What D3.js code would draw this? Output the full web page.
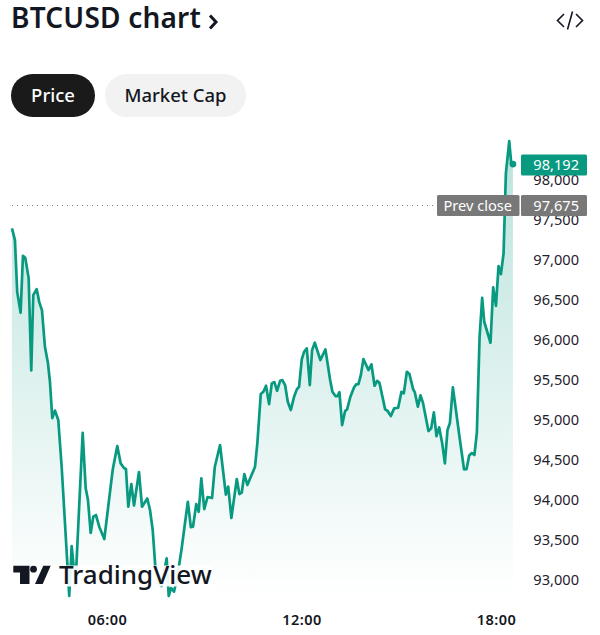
<!DOCTYPE html>
<html><head><meta charset="utf-8">
<script src="https://cdn.jsdelivr.net/npm/d3@7"></script>
<style>html,body{margin:0;padding:0;background:#fff}svg{display:block}text{font-family:"Noto Sans",sans-serif}</style>
</head><body><div id="c"></div>
<script>
const title="BTCUSD chart";
const tabs=["Price","Market Cap"];
const minutes=[184,186.4,189.6,193.8,200.1,204.4,208.7,215,219.8,223.5,229.8,234.6,239.6,245.1,250.7,254.4,258.7,263.7,269.8,276.1,290.1,294.6,301.6,315,320.5,324.8,329.8,334.6,339.6,345.7,355,370.5,379,385.3,391.4,395.1,399.4,405,410,419.2,424.8,434.6,439.6,444.6,449.4,454.4,460.9,470.5,474.2,478.5,484,490.2,498.3,509.6,515.2,519.2,525.2,529.8,534.6,540,546.1,554.4,559.6,569.2,580,584.4,590.2,600.2,605,609.4,614.2,619.8,634,638.3,644.6,649.4,654.4,660,665,669.8,674.8,680.4,684.6,689.6,694.6,700.2,706.3,711.3,715.5,720.5,724.8,729.8,735.4,739.6,744.6,755,764.3,773,777.2,782.8,786.5,790.2,795.2,800.7,804.4,810.5,817.4,821.1,825.4,829.8,834.6,843.9,849.4,855.2,860,864.3,874.8,879.1,885.4,891.5,898.9,905,909.4,915,919.8,926.7,929.8,935.4,940.2,944.6,955,960,965,969.8,974.8,980.4,985.4,990.2,994.6,1000.2,1012.4,1020.8,1025.4,1030.4,1035.2,1040,1044.6,1049.6,1054.4,1058.2,1069.8,1074.8,1079.9,1084.7,1089.1,1094,1098.3,1104.5,1108.2,1111.3];
const prices=[97389,97331,97243,96598,96336,97047,97022,96769,95617,96557,96632,96469,96370,95912,95708,95475,95022,95115,94997,94414,92800,93424,92938,94838,94148,93998,93587,93790,93811,93665,93512,94373,94672,94456,94398,94385,93915,94198,93930,94348,93915,94017,93874,93624,93166,92963,92925,93271,92800,92900,92854,93037,93399,93977,93661,93665,93948,93852,94270,93886,94036,94023,94414,94685,94067,94167,93774,94260,94073,94090,94323,94186,94414,94710,95321,95350,95425,95196,95455,95471,95362,95487,95496,95434,95225,95122,95288,95380,95412,95754,95849,95892,95434,95870,95962,95746,95879,95496,95350,95296,95296,95346,94934,95109,95130,95288,95405,95442,95446,95558,95758,95621,95693,95425,95487,95461,95130,95113,95047,95143,95150,95350,95330,95600,95571,95380,95342,95163,95305,95218,94860,94893,95093,94797,94906,94706,94456,94872,94956,95405,94788,94382,94383,94554,94585,94560,94841,96033,96523,96224,95962,96653,96423,96919,96819,97077,98076,98479,98200,98192];
const yTicks=[93000,93500,94000,94500,95000,95500,96000,96500,97000,97500,98000];
const xTicks=[360,720,1080];
const xLabels=["06:00","12:00","18:00"];
const prevClose=97675;
const lastPrice=98192;

const FONT='"Noto Sans",sans-serif';
const svg=d3.select("#c").append("svg").attr("width",600).attr("height",635);
const x=d3.scaleLinear().domain([360,1080]).range([107,496]);
const y=d3.scaleLinear().domain([93000,97000]).range([580,259.6]);
const pts=minutes.map((m,i)=>[m,prices[i]]);

const defs=svg.append("defs");
const g=defs.append("linearGradient").attr("id","fill").attr("gradientUnits","userSpaceOnUse")
  .attr("x1",0).attr("x2",0).attr("y1",y(98479)).attr("y2",597);
g.append("stop").attr("offset",0).attr("stop-color","#089981").attr("stop-opacity",0.28);
g.append("stop").attr("offset",1).attr("stop-color","#089981").attr("stop-opacity",0);

// header
svg.append("text").attr("x",11).attr("y",28).attr("font-size",28).attr("font-weight",600).attr("letter-spacing",0.2).attr("fill","#131722").text(title);
svg.append("path").attr("d","M210 15.5l6 6.5-6 6.5").attr("fill","none").attr("stroke","#131722").attr("stroke-width",3);
svg.append("path").attr("d","M564 14l-6.5 6.5 6.5 6.5M576 14l6.5 6.5-6.5 6.5M572.5 11.5l-5 18").attr("fill","none").attr("stroke","#131722").attr("stroke-width",1.6);

// tabs
const tabBox=[[11,84,"#1a1a1a","#fff"],[105,141,"#f2f2f2","#131722"]];
tabs.forEach((t,i)=>{
  const b=tabBox[i];
  svg.append("rect").attr("x",b[0]).attr("y",74).attr("width",b[1]).attr("height",43).attr("rx",21.5).attr("fill",b[2]);
  svg.append("text").attr("x",b[0]+b[1]/2).attr("y",101.5).attr("text-anchor","middle").attr("font-size",18.5).attr("font-weight",500).attr("fill",b[3]).text(t);
});

// area + prev close dotted
svg.append("path").attr("d",d3.area().x(d=>x(d[0])).y0(597).y1(d=>y(d[1]))(pts)).attr("fill","url(#fill)");
svg.append("line").attr("x1",12).attr("x2",437).attr("y1",y(prevClose)).attr("y2",y(prevClose))
  .attr("stroke","#787b86").attr("stroke-width",1).attr("stroke-dasharray","1 4");

// line
svg.append("path").attr("d",d3.line().x(d=>x(d[0])).y(d=>y(d[1]))(pts)).attr("fill","none")
  .attr("stroke","#089981").attr("stroke-width",2.7).attr("stroke-linejoin","round");
svg.append("circle").attr("cx",x(minutes[minutes.length-1])).attr("cy",y(lastPrice)).attr("r",3.4).attr("fill","#089981");

// axes
const ya=svg.append("g").attr("transform","translate(579,0)").call(d3.axisRight(y).tickValues(yTicks).tickSize(0).tickFormat(d3.format(",")));
ya.select(".domain").remove();
ya.selectAll("text").attr("x",0).attr("text-anchor","end").attr("font-family",FONT).attr("font-size",14.6).attr("fill","#1e222d");
const xa=svg.append("g").attr("transform","translate(0,610)").call(d3.axisBottom(x).tickValues(xTicks).tickSize(0).tickFormat((d,i)=>xLabels[i]));
xa.select(".domain").remove();
xa.selectAll("text").attr("y",0).attr("dy","1em").attr("font-family",FONT).attr("font-size",14.5).attr("font-weight",600).attr("letter-spacing",0.5).attr("fill","#131722");

// price labels
function tag(xp,w,yc,col,txt,anchorX){
  svg.append("rect").attr("x",xp).attr("y",yc-10.5).attr("width",w).attr("height",21).attr("rx",1.5).attr("fill",col);
  svg.append("text").attr("x",anchorX).attr("y",yc+5).attr("text-anchor","end").attr("font-size",14.6).attr("fill","#fff").text(txt);
}
tag(521,66,y(lastPrice)+1,"#089981",d3.format(",")(lastPrice),579);
tag(437,82.5,y(prevClose),"#787878","Prev close",512);
tag(521,66,y(prevClose),"#787878",d3.format(",")(prevClose),579);

// watermark
svg.append("rect").attr("x",12).attr("y",565.5).attr("width",200).attr("height",21).attr("fill","#fff").attr("fill-opacity",0.92);
svg.append("path").attr("d","M13.3 565.7H29.5V584H20V572.4H13.3ZM35 584L43.3 565.7H50.7L42.7 584Z").attr("fill","#131722");
svg.append("circle").attr("cx",33.5).attr("cy",569.2).attr("r",3.4).attr("fill","#131722");
svg.append("text").attr("x",59).attr("y",584).attr("font-size",26).attr("font-weight",500).attr("fill","#131722").text("TradingView");
</script></body></html>
